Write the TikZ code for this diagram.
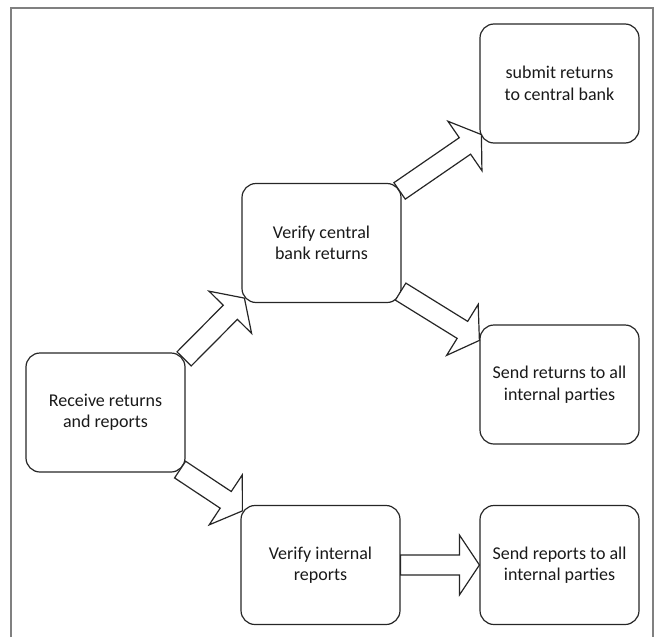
\documentclass[tikz,border=0pt]{standalone}
\usepackage{fontspec}
\setmainfont{Carlito}
\usetikzlibrary{calc}

\tikzset{
  stage/.style={draw=black!85, line width=1.2pt, rounded corners=14pt,
    minimum width=159pt, minimum height=119pt, align=center,
    text=black!90, font=\fontsize{18}{21.5}\selectfont},
  blockarr/.style={draw=black!85, line width=1.2pt, fill=white, line join=miter},
  frameline/.style={draw=black!50, line width=1.5pt}
}

% block arrow from tail #1 to tip #2
\newcommand{\blockarrow}[2]{%
  \draw[blockarr] ($(#1)!10pt!90:(#2)$)
    -- ($(#2)!20pt!(#1)!10pt!90:(#2)$)
    -- ($(#2)!20pt!(#1)!30pt!90:(#2)$)
    -- (#2)
    -- ($(#2)!20pt!(#1)!30pt!-90:(#2)$)
    -- ($(#2)!20pt!(#1)!10pt!-90:(#2)$)
    -- ($(#1)!10pt!-90:(#2)$) -- cycle;}

\begin{document}
\begin{tikzpicture}[x=1pt, y=-1pt]
  \useasboundingbox (0,0) rectangle (661,637);
  \draw[frameline] (11,637) -- (11,8) -- (653,8) -- (653,637);

  \node[stage] (recv) at (105.5,412.5) {Receive returns\\and reports};
  \node[stage] (vcb) at (321.5,243) {Verify central\\bank returns};
  \node[stage] (sub) at (559.5,83.5) {submit returns\\to central bank};
  \node[stage] (sret) at (559.5,384.5) {Send returns to all\\internal parties};
  \node[stage] (vint) at (320.5,565) {Verify internal\\reports};
  \node[stage] (srep) at (559.5,565) {Send reports to all\\internal parties};

  \coordinate (t1) at ($(recv.north east)+(-1.5,6.5)$);
  \coordinate (h1) at ($(vcb.south west)+(3,-5)$);
  \coordinate (t2) at ($(vcb.north east)+(-2,8)$);
  \coordinate (h2) at ($(sub.south west)+(2,-9)$);
  \coordinate (t3) at ($(vcb.south east)+(-1,-11.5)$);
  \coordinate (h3) at ($(sret.north west)+(0,16)$);
  \coordinate (t4) at ($(recv.south east)+(-5.5,-3)$);
  \coordinate (h4) at ($(vint.north west)+(2,6)$);

  \blockarrow{t1}{h1}
  \blockarrow{t2}{h2}
  \blockarrow{t3}{h3}
  \blockarrow{t4}{h4}
  \blockarrow{vint.east}{srep.west}
\end{tikzpicture}
\end{document}
